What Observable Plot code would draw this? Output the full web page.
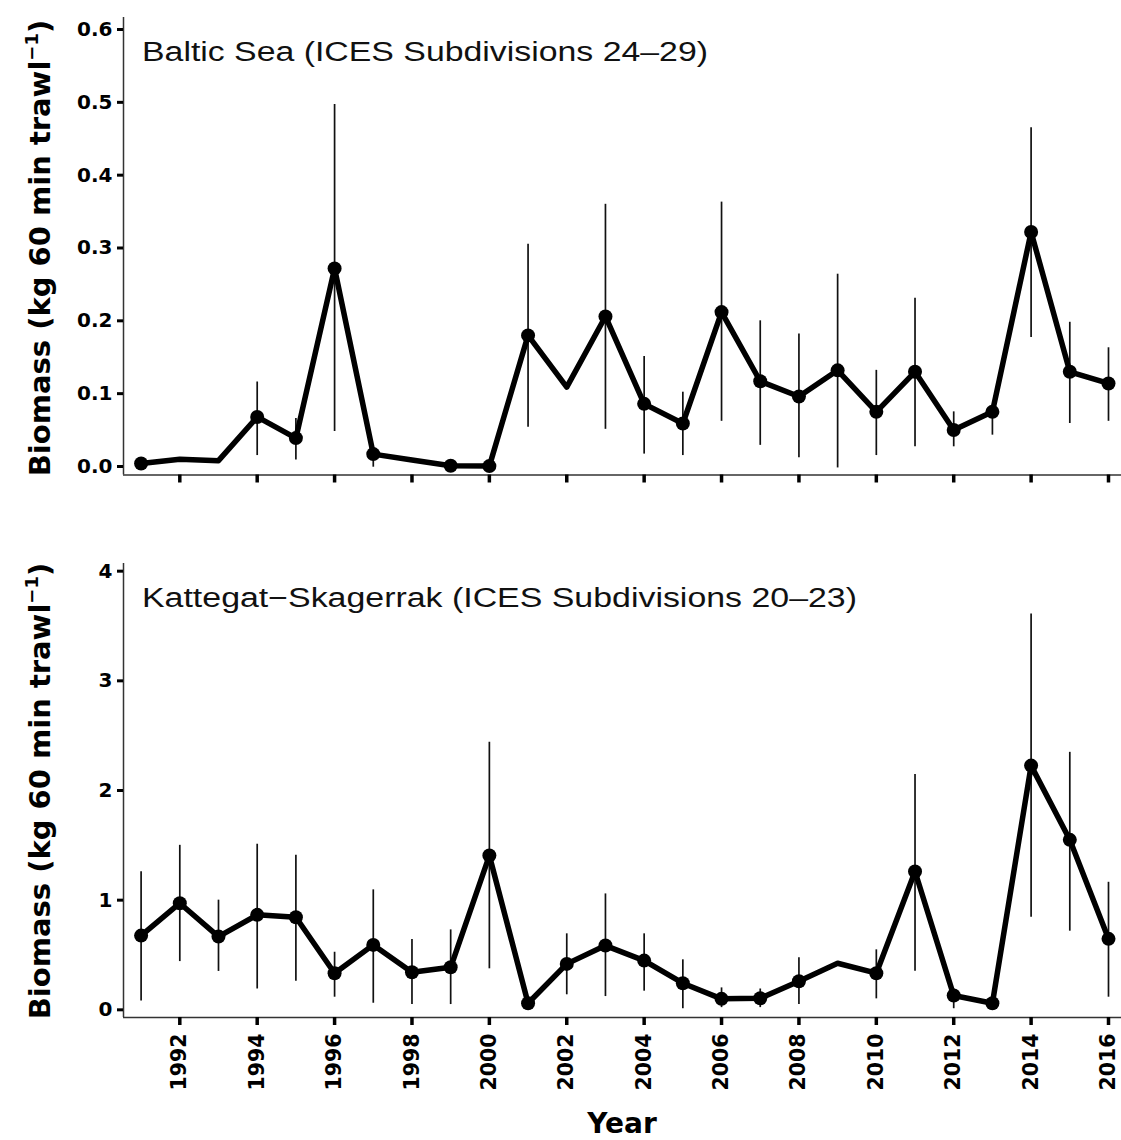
<!DOCTYPE html>
<html>
<head>
<meta charset="utf-8">
<script src="https://cdn.jsdelivr.net/npm/d3@7"></script>
<script src="https://cdn.jsdelivr.net/npm/@observablehq/plot@0.6"></script>
<style>
  html, body { margin: 0; padding: 0; background: #fff; }
  #wrap { position: relative; width: 1121px; height: 1140px; overflow: hidden; }
  #top { position: absolute; left: 0; top: 0; }
  #bottom { position: absolute; left: 0; top: 540px; }
</style>
</head>
<body>
<div id="wrap"><div id="top"></div><div id="bottom"></div></div>
<script>
// ---- data ----
const years = [1991,1992,1993,1994,1995,1996,1997,1998,1999,2000,2001,2002,2003,2004,2005,2006,2007,2008,2009,2010,2011,2012,2013,2014,2015,2016];

const balticMean = [0.004,0.010,0.008,0.068,0.039,0.272,0.017,0.009,0.001,0.0005,0.180,0.109,0.206,0.086,0.059,0.212,0.117,0.096,0.132,0.075,0.130,0.050,0.075,0.322,0.130,0.114];
const balticLow  = [null,null,null,0.015,0.009,0.048,-0.001,null,null,null,0.054,null,0.051,0.017,0.015,0.062,0.029,0.012,-0.002,0.015,0.027,0.027,0.043,0.177,0.059,0.062];
const balticHigh = [null,null,null,0.116,0.066,0.497,0.026,null,null,null,0.305,null,0.360,0.151,0.102,0.363,0.200,0.182,0.264,0.132,0.231,0.075,0.084,0.465,0.198,0.163];
const balticNoPoint = [1992,1993,1998,2002];

const kattMean = [0.677,0.972,0.668,0.866,0.844,0.334,0.592,0.343,0.388,1.407,0.060,0.419,0.586,0.449,0.243,0.100,0.105,0.261,0.425,0.334,1.261,0.130,0.060,2.227,1.550,0.647];
const kattLow  = [0.08,0.44,0.35,0.19,0.26,0.115,0.06,0.048,0.048,0.374,null,0.137,0.121,0.17,0.01,0.02,0.02,0.048,null,0.10,0.352,0.01,null,0.844,0.717,0.115];
const kattHigh = [1.26,1.50,1.00,1.51,1.41,0.525,1.094,0.641,0.729,2.44,null,0.693,1.057,0.693,0.456,0.20,0.19,0.474,null,0.547,2.145,0.19,null,3.61,2.348,1.163];
const kattNoPoint = [2009];

const xTicks = [1992,1994,1996,1998,2000,2002,2004,2006,2008,2010,2012,2014,2016];
const balticYTicks = [0,0.1,0.2,0.3,0.4,0.5,0.6];
const kattYTicks = [0,1,2,3,4];

const balticTitle = "Baltic Sea (ICES Subdivisions 24\u201329)";
const kattTitle = "Kattegat\u2212Skagerrak (ICES Subdivisions 20\u201323)";
const yTitleMain = "Biomass (kg 60 min trawl";
const yTitleSup = "\u22121";
const yTitleEnd = ")";
const xTitle = "Year";

// ---- helpers ----
function rows(mean, low, high, noPoint) {
  return years.map((yr, i) => ({year: yr, mean: mean[i], low: low[i], high: high[i], point: !noPoint.includes(yr)}));
}

const xDomain = [1990.545, 2016.336];

function panel({data, yDomain, yTicks, yFmt, height, marginTop, marginBottom, showXLabels}) {
  return Plot.plot({
    width: 1121,
    height,
    marginLeft: 123,
    marginRight: 0,
    marginTop,
    marginBottom,
    x: {domain: xDomain},
    y: {domain: yDomain},
    style: {fontFamily: "DejaVu Sans", fontWeight: "bold", fontSize: "20px", color: "#000", background: "#fff", overflow: "visible"},
    marks: [
      Plot.ruleX(data.filter(d => d.low != null), {x: "year", y1: "low", y2: "high", stroke: "#111", strokeWidth: 1.7}),
      Plot.line(data, {x: "year", y: "mean", stroke: "#000", strokeWidth: 5.5, strokeLinejoin: "round"}),
      Plot.dot(data.filter(d => d.point), {x: "year", y: "mean", r: 7, fill: "#000", stroke: "none"}),
      Plot.ruleX([xDomain[0]], {stroke: "#333", strokeWidth: 1.5}),
      Plot.ruleY([yDomain[0]], {stroke: "#333", strokeWidth: 1.5}),
      Plot.axisY({ticks: yTicks, tickFormat: yFmt, tickSize: 6, tickPadding: 5, strokeWidth: 3, stroke: "#000", fontSize: 20, label: null}),
      Plot.axisX({ticks: xTicks, tickFormat: showXLabels ? d3.format("d") : () => "", tickSize: 8, tickPadding: 8,
                  tickRotate: showXLabels ? -90 : 0, strokeWidth: 3.5, stroke: "#000", fontSize: 20.5, label: null})
    ]
  });
}

function addTexts(svg, title, titleLen, titleBaseline, yTitleCenter) {
  const s = d3.select(svg);
  s.append("text")
    .attr("x", 142).attr("y", titleBaseline)
    .attr("text-anchor", "start")
    .attr("font-family", "Liberation Sans, Arial, sans-serif")
    .attr("font-weight", "normal")
    .attr("font-size", 27)
    .attr("fill", "#111")
    .attr("textLength", titleLen)
    .attr("lengthAdjust", "spacingAndGlyphs")
    .text(title);
  const t = s.append("text")
    .attr("transform", `translate(50,${yTitleCenter}) rotate(-90)`)
    .attr("text-anchor", "middle")
    .attr("font-family", "DejaVu Sans")
    .attr("font-weight", "bold")
    .attr("font-size", 29)
    .attr("fill", "#000");
  t.append("tspan").text(yTitleMain);
  t.append("tspan").attr("font-size", 18).attr("dy", -12).text(yTitleSup);
  t.append("tspan").attr("dy", 12).text(yTitleEnd);
}

const topSvg = panel({
  data: rows(balticMean, balticLow, balticHigh, balticNoPoint),
  yDomain: [-0.0117, 0.6165], yTicks: balticYTicks, yFmt: d3.format(".1f"),
  height: 500, marginTop: 17, marginBottom: 25.5, showXLabels: false
});
addTexts(topSvg, balticTitle, 566, 61, 248);
document.getElementById("top").appendChild(topSvg);

const botSvg = panel({
  data: rows(kattMean, kattLow, kattHigh, kattNoPoint),
  yDomain: [-0.070, 4.07], yTicks: kattYTicks, yFmt: d3.format("d"),
  height: 600, marginTop: 23, marginBottom: 123, showXLabels: true
});
addTexts(botSvg, kattTitle, 715, 67, 251);
d3.select(botSvg).append("text")
  .attr("x", 622).attr("y", 593)
  .attr("text-anchor", "middle")
  .attr("font-family", "DejaVu Sans").attr("font-weight", "bold").attr("font-size", 28)
  .attr("fill", "#000")
  .text(xTitle);
document.getElementById("bottom").appendChild(botSvg);
</script>
</body>
</html>
